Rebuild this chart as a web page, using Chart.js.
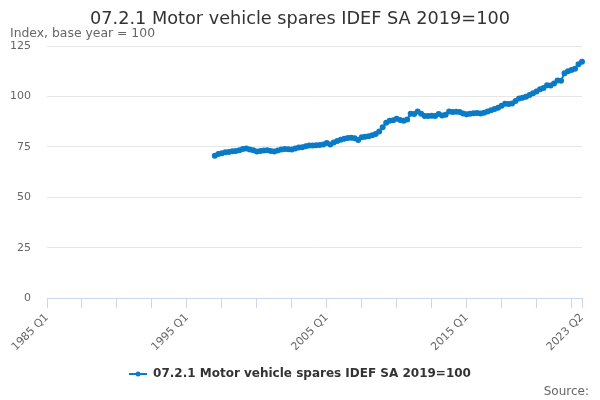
<!DOCTYPE html>
<html>
<head>
<meta charset="utf-8">
<script src="https://cdn.jsdelivr.net/npm/chart.js@4"></script>
<style>
html,body{margin:0;padding:0;background:#fff;}
#wrap{width:600px;height:400px;position:relative;}
</style>
</head>
<body>
<div id="wrap"><canvas id="c" width="600" height="400"></canvas></div>
<script>
const titleText = "07.2.1 Motor vehicle spares IDEF SA 2019=100";
const subtitleText = "Index, base year = 100";
const seriesName = "07.2.1 Motor vehicle spares IDEF SA 2019=100";
const sourceText = "Source:";

// quarters 1985 Q1 .. 2023 Q2
const firstYear = 1985;
const quarterCount = 154;
const categories = [];
for (let i = 0; i < quarterCount; i++) {
  categories.push((firstYear + Math.floor(i / 4)) + " Q" + (i % 4 + 1));
}

// data begins 1997 Q1
const dataStart = "1997 Q1";
const values = [
  70.6, 71.5, 71.8, 72.3, 72.5, 72.8, 73.0, 73.3, 74.0, 74.2,
  73.7, 73.3, 72.7, 73.0, 73.2, 73.3, 73.0, 72.7, 73.2, 73.7,
  74.0, 73.9, 73.7, 74.2, 74.7, 74.9, 75.3, 75.7, 75.7, 75.8,
  75.9, 76.2, 77.0, 76.2, 77.2, 78.0, 78.6, 79.0, 79.4, 79.5,
  79.3, 78.5, 79.8, 80.0, 80.3, 80.8, 81.4, 82.6, 84.8, 87.0,
  88.0, 88.2, 89.0, 88.4, 88.0, 88.6, 91.5, 91.4, 92.6, 91.5,
  90.3, 90.4, 90.5, 90.3, 91.3, 90.6, 91.0, 92.6, 92.4, 92.5,
  92.3, 91.6, 91.2, 91.5, 91.7, 91.8, 91.6, 92.0, 92.6, 93.2,
  93.8, 94.5, 95.5, 96.4, 96.3, 96.5, 97.8, 99.0, 99.4, 99.9,
  100.8, 101.6, 102.5, 103.6, 104.2, 105.6, 105.5, 106.5, 108.0, 107.8,
  111.6, 112.6, 113.2, 113.8, 116.0, 117.3
];

const yTicks = [0, 25, 50, 75, 100, 125];
const xLabelEvery = 40;   // labelled quarters
const xTickEvery = 10;    // tick marks

const startIdx = categories.indexOf(dataStart);
const seriesData = categories.map((c, i) => (i >= startIdx && i - startIdx < values.length) ? values[i - startIdx] : null);

const lineColor = "#0a7bc6";
const FONT = "'DejaVu Sans', sans-serif";

// legend symbol: line with dot
const sym = document.createElement('canvas');
sym.width = 18; sym.height = 10;
(function(){
  const g = sym.getContext('2d');
  g.strokeStyle = lineColor; g.lineWidth = 2;
  g.beginPath(); g.moveTo(0, 5); g.lineTo(18, 5); g.stroke();
  g.fillStyle = lineColor;
  g.beginPath(); g.arc(9, 5, 2.5, 0, Math.PI * 2); g.fill();
})();

const sourcePlugin = {
  id: 'sourceText',
  afterDraw(chart) {
    const ctx = chart.ctx;
    ctx.save();
    ctx.font = "12px " + FONT;
    ctx.fillStyle = "#666666";
    ctx.textAlign = "right";
    ctx.textBaseline = "alphabetic";
    ctx.fillText(sourceText, 589, 395);
    ctx.restore();
  }
};

new Chart(document.getElementById('c'), {
  type: 'line',
  data: {
    labels: categories,
    datasets: [{
      label: seriesName,
      data: seriesData,
      borderColor: lineColor,
      backgroundColor: lineColor,
      borderWidth: 2,
      pointRadius: 2,
      pointHoverRadius: 3,
      pointStyle: 'circle',
      tension: 0,
      spanGaps: false
    }]
  },
  options: {
    responsive: false,
    animation: false,
    devicePixelRatio: 1,
    layout: { padding: { left: 10, right: 10, top: 0, bottom: 10 } },
    plugins: {
      title: {
        display: true,
        text: titleText,
        color: "#333333",
        font: { family: FONT, size: 17.7, weight: 'normal', lineHeight: 0.95 },
        padding: { top: 11, bottom: 0 }
      },
      subtitle: {
        display: true,
        text: subtitleText,
        align: 'start',
        color: "#666666",
        font: { family: FONT, size: 12.4, weight: 'normal', lineHeight: 1.0 },
        padding: { top: 0, bottom: 6 }
      },
      legend: {
        display: true,
        position: 'bottom',
        labels: {
          usePointStyle: true,
          pointStyle: sym,
          pointStyleWidth: 18,
          color: "#333333",
          font: { family: FONT, size: 12, weight: 'bold' },
          padding: 10
        }
      },
      tooltip: { enabled: false }
    },
    scales: {
      x: {
        type: 'category',
        offset: false,
        border: { display: true, color: "#ccd6eb", width: 1 },
        grid: {
          display: true,
          drawOnChartArea: false,
          drawTicks: true,
          tickLength: 10,
          color: "#ccd6eb"
        },
        afterBuildTicks(scale) {
          const last = categories.length - 1;
          scale.ticks = scale.ticks.filter(t => t.value % xTickEvery === 0 || t.value === last);
        },
        afterFit(scale) {
          scale.height = 60;
          scale.paddingRight = 18;
        },
        ticks: {
          autoSkip: false,
          maxRotation: 45,
          minRotation: 45,
          color: "#666666",
          font: { family: FONT, size: 11 },
          padding: 3,
          callback(value) {
            const last = categories.length - 1;
            return (value % xLabelEvery === 0 || value === last) ? categories[value] : '';
          }
        }
      },
      y: {
        min: 0,
        max: 125,
        afterBuildTicks(scale) {
          scale.ticks = yTicks.map(v => ({ value: v }));
        },
        afterFit(scale) { scale.width = 37; },
        border: { display: false },
        grid: { color: "#e6e6e6", drawTicks: false },
        ticks: {
          color: "#666666",
          font: { family: FONT, size: 11 },
          padding: 16
        }
      }
    }
  },
  plugins: [sourcePlugin]
});
</script>
</body>
</html>
